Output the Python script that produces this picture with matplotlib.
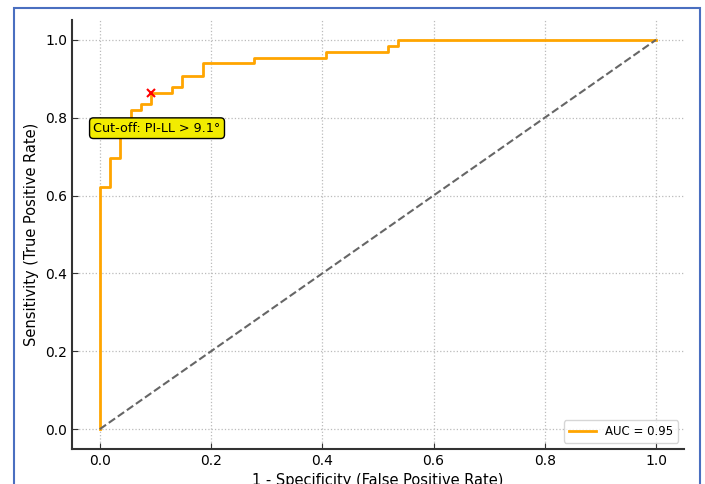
import matplotlib
matplotlib.use("Agg")
import matplotlib.pyplot as plt
from matplotlib.patches import Rectangle

# ROC curve steps
fpr = [0.0, 0.0, 0.019, 0.019, 0.037, 0.037, 0.056, 0.056, 0.074, 0.074, 0.093, 0.093,
       0.130, 0.130, 0.148, 0.148, 0.185, 0.185, 0.278, 0.278, 0.407, 0.407,
       0.519, 0.519, 0.537, 0.537, 1.0]
tpr = [0.0, 0.622, 0.622, 0.697, 0.697, 0.795, 0.795, 0.821, 0.821, 0.834, 0.834, 0.863,
       0.863, 0.878, 0.878, 0.908, 0.908, 0.940, 0.940, 0.954, 0.954, 0.968,
       0.968, 0.985, 0.985, 1.0, 1.0]
auc = 0.95
cutoff_fpr = 0.093
cutoff_tpr = 0.863
cutoff_label = "Cut-off: PI-LL > 9.1°"
ticks = [0.0, 0.2, 0.4, 0.6, 0.8, 1.0]

fig = plt.figure(figsize=(7.05, 4.84), dpi=100)
ax = fig.add_axes([0.102, 0.073, 0.868, 0.885])

ax.plot(fpr, tpr, color="orange", lw=2, label=f"AUC = {auc:.2f}")
ax.plot([0, 1], [0, 1], color="#666666", ls="--", lw=1.5)
ax.plot(cutoff_fpr, cutoff_tpr, "x", color="red", ms=5.5, mew=1.5)
ax.text(cutoff_fpr + 0.01, cutoff_tpr - 0.09, cutoff_label, ha="center", va="center",
        fontsize=9.2,
        bbox=dict(boxstyle="round,pad=0.3", fc="#f2ec00", ec="black", lw=1))

ax.set_xlim(-0.05, 1.05)
ax.set_ylim(-0.05, 1.05)
ax.set_xticks(ticks)
ax.set_yticks(ticks)
ax.grid(True, ls=":", color="#bbbbbb", lw=0.9)
ax.tick_params(direction="in", labelsize=10, length=4, color="#333333")
for s in ["top", "right"]:
    ax.spines[s].set_visible(False)
for s in ["left", "bottom"]:
    ax.spines[s].set_color("#333333")
    ax.spines[s].set_linewidth(1.5)

ax.set_xlabel("1 - Specificity (False Positive Rate)", fontsize=10.5)
ax.set_ylabel("Sensitivity (True Positive Rate)", fontsize=10.5)
ax.legend(loc="lower right", fontsize=8.5, handlelength=2.3, fancybox=True)

# blue frame around the picture
fig.patches.append(Rectangle((14 / 705, -0.05), (700 - 14) / 705, 1.05 - 8 / 484,
                             transform=fig.transFigure, fill=False,
                             ec="#4a6fc0", lw=1.5))

fig.savefig("out.png", dpi=100)
